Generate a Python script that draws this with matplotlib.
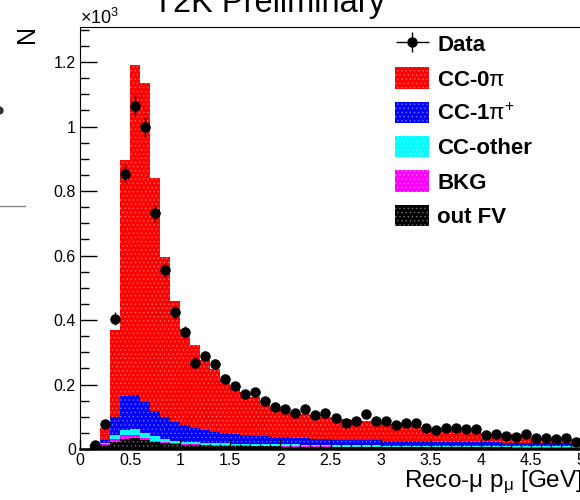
import numpy as np
import matplotlib
matplotlib.use("Agg")
import matplotlib.pyplot as plt
from matplotlib.patches import Patch
from matplotlib.lines import Line2D
from matplotlib.legend_handler import HandlerErrorbar
from matplotlib.container import ErrorbarContainer
from matplotlib.ticker import MultipleLocator, FuncFormatter

plt.rcParams['font.family'] = ['Liberation Sans', 'DejaVu Sans']
plt.rcParams['mathtext.fontset'] = 'custom'
plt.rcParams['mathtext.rm'] = 'Liberation Sans'
plt.rcParams['mathtext.it'] = 'Liberation Sans:italic'
plt.rcParams['mathtext.bf'] = 'Liberation Sans:bold'
plt.rcParams['hatch.linewidth'] = 0.6

# bin edges 0..5 GeV, width 0.1
bin_lo = np.round(np.arange(0, 5.0, 0.1), 2)

out_fv = [1, 5, 12, 22, 32, 35, 28, 21, 18, 15,
          13, 12, 11, 10, 10, 9, 9, 8, 8, 8,
          7, 7, 7, 6, 6, 6, 6, 6, 6, 6,
          5, 5, 5, 5, 5, 5, 5, 5, 5, 5,
          5, 5, 5, 4, 4, 4, 4, 4, 4, 4]
bkg = [0, 1, 3, 8, 10, 8, 6, 4, 3, 3,
       2, 2, 2, 2, 2, 2, 2, 2, 2, 2,
       2, 2, 2, 2, 2, 1, 1, 1, 1, 1,
       1, 1, 1, 1, 1, 1, 1, 1, 1, 1,
       1, 1, 1, 1, 1, 1, 1, 1, 1, 1]
cc_other = [0, 1, 4, 12, 17, 18, 17, 14, 10, 8,
            8, 7, 7, 7, 6, 6, 6, 5, 5, 5,
            5, 5, 4, 4, 4, 4, 4, 4, 4, 4,
            4, 4, 4, 4, 4, 4, 3, 3, 3, 3,
            3, 3, 3, 3, 3, 3, 3, 3, 3, 3]
cc_1pi = [0, 2, 10, 58, 106, 107, 96, 79, 69, 58,
          50, 44, 38, 34, 32, 28, 26, 25, 24, 23,
          22, 21, 20, 19, 18, 18, 17, 17, 16, 16,
          15, 15, 14, 14, 14, 13, 13, 13, 12, 12,
          12, 12, 11, 11, 11, 10, 10, 10, 10, 10]
cc_0pi = [0, 3, 35, 270, 731, 1023, 987, 722, 495, 376,
          299, 258, 218, 195, 170, 151, 135, 122, 109, 96,
          88, 81, 77, 73, 70, 67, 64, 62, 61, 58,
          57, 54, 52, 49, 44, 37, 36, 36, 35, 34,
          29, 28, 27, 26, 25, 18, 16, 15, 14, 12]
data = [np.nan, 13, 77, 404, 853, 1065, 999, 731, 554, 424,
        364, 268, 287, 264, 218, 194, 170, 176, 150, 131,
        124, 111, 123, 105, 111, 97, 80, 86, 108, 88,
        88, 73, 82, 80, 65, 58, 64, 64, 61, 63,
        42, 46, 41, 38, 46, 33, 35, 32, 34, 23]

components = [("out FV", out_fv, "#000000"),
              ("BKG", bkg, "#ff00ff"),
              ("CC-other", cc_other, "#00ffff"),
              (r"CC-1$\mathrm{\pi}^{+}$", cc_1pi, "#0000ff"),
              (r"CC-0$\mathrm{\pi}$", cc_0pi, "#ff0000")]

fig = plt.figure(figsize=(5.8, 5.0), dpi=100)
ax = fig.add_axes([80/580, 51/500, 501/580, 422/500])

width = 0.1
centers = bin_lo + width/2
bottom = np.zeros(len(bin_lo))
for name, vals, col in components:
    vals = np.array(vals, dtype=float)
    ax.bar(centers, vals, width=width, bottom=bottom, color=col,
           edgecolor=(1, 1, 1, 0.35), linewidth=0, hatch='....')
    bottom = bottom + vals

d = np.array(data, dtype=float)
eb = ax.errorbar(centers, d, yerr=np.sqrt(d), xerr=0.045, fmt='o', color='black',
                 ms=6.5, elinewidth=1.0, capsize=0)

ax.set_xlim(0, 5)
ax.set_ylim(0, 1309)
ax.xaxis.set_major_locator(MultipleLocator(0.5))
ax.xaxis.set_minor_locator(MultipleLocator(0.1))
ax.yaxis.set_major_locator(MultipleLocator(200))
ax.yaxis.set_minor_locator(MultipleLocator(50))
ax.xaxis.set_major_formatter(FuncFormatter(lambda v, p: f"{v:g}"))
ax.yaxis.set_major_formatter(FuncFormatter(lambda v, p: f"{v/1000:g}"))
ax.tick_params(axis='y', which='major', direction='in', length=12, width=1, labelsize=11.5, pad=3, colors='black')
ax.tick_params(axis='y', which='minor', direction='in', length=6.5, width=1)
ax.tick_params(axis='x', which='major', direction='in', length=7, width=1, labelsize=11.5, pad=3)
ax.tick_params(axis='x', which='minor', direction='in', length=3.5, width=1)
ax.tick_params(top=False, right=False, which='both')
for s in ['left', 'top', 'right']:
    ax.spines[s].set_linewidth(0.8)
ax.spines['bottom'].set_linewidth(1.8)

fig.text(80/580, 1 - 24/500, r"$\times$10$^{3}$", fontsize=13, ha='left', va='baseline')
fig.text(27/580, 1 - 34/500, "N", fontsize=18, rotation=90, ha='center', va='center')
fig.text(269/580, 1 - 12/500, "T2K Preliminary", fontsize=23.5, ha='center', va='baseline')
fig.text(583/580, 1 - 487/500, r"Reco-$\mathrm{\mu}$ p$_{\mathrm{\mu}}$ [GeV]", fontsize=17.5,
         ha='right', va='baseline')

# stray marks at the left border
fig.add_artist(Line2D([0, 25/580], [1 - 206/500, 1 - 206/500], color='#888888', lw=1))
fig.add_artist(Line2D([-1/580], [1 - 110/500], marker='o', ms=5, color='#333333', lw=0))

handles = [eb]
labels = ["Data"]
for name, vals, col in reversed(components):
    handles.append(Patch(facecolor=col, edgecolor=(1, 1, 1, 0.35), linewidth=0, hatch='....'))
    labels.append(name)
leg = fig.legend(handles, labels, loc='upper left', bbox_to_anchor=(395/580, 1 - 33/500),
                 frameon=False, prop={'weight': 'bold', 'size': 16},
                 handlelength=1.55, handleheight=1.1, labelspacing=0.5, handletextpad=0.36,
                 borderpad=0, borderaxespad=0,
                 handler_map={ErrorbarContainer: HandlerErrorbar(xerr_size=0.75, yerr_size=0.45)})

fig.savefig("out.png", dpi=100)
